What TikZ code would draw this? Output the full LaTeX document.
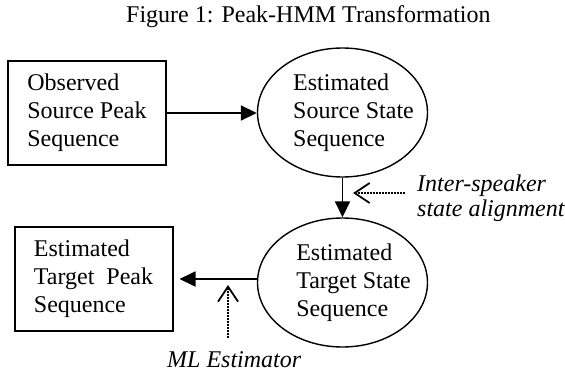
\documentclass[tikz,border=0pt]{standalone}
\usepackage{fontspec}
\setmainfont{Liberation Serif}
\usetikzlibrary{arrows.meta, shapes.geometric}

\begin{document}
\begin{tikzpicture}[x=1pt, y=-1pt,
        txt/.style={font=\fontsize{24}{28}\selectfont, align=left},
        peakbox/.style={txt, draw, line width=2pt, minimum width=158pt, minimum height=104pt},
        statebox/.style={ellipse, draw, line width=1.4pt, minimum width=170pt, minimum height=129pt},
        flow/.style={line width=1.8pt, -{Triangle[length=16pt, width=15pt]}},
        hint/.style={line width=1.8pt, dash pattern=on 1.6pt off 1.4pt, -{Straight Barb[length=15pt, width=20pt]}}]
            \useasboundingbox (0,0) rectangle (565,372);
            \node[txt, anchor=base west, inner sep=0](title) at (126,22){Figure 1: Peak-HMM Transformation};
            \node[peakbox](srcpeak) at (87,113){Observed\\Source Peak\\Sequence};
            \node[statebox](srcstate) at (342.5,112.5){};
            \node[txt](srcstatetext) at ([xshift=11pt]srcstate.center){Estimated\\Source State\\Sequence};
            \node[statebox](tgtstate) at (342.5,282.5){};
            \node[txt](tgtstatetext) at ([xshift=11pt]tgtstate.center){Estimated\\Target State\\Sequence};
            \node[peakbox](tgtpeak) at (93.5,279){Estimated\\Target \ Peak\\Sequence};
            \draw[flow](srcpeak.east)--(srcpeak.east -| srcstate.west);
            \draw[flow](srcstate.south)--(tgtstate.north);
            \draw[flow, shorten >=6pt](tgtstate.west |- tgtpeak.east)--(tgtpeak.east);
            % dotted hints
            \coordinate(alignfrom) at (405,193);
            \coordinate(aligntip) at (353,193);
            \draw[hint](alignfrom)--(aligntip);
            \node[txt, font=\fontsize{24}{25}\selectfont\itshape, anchor=west, inner sep=0](alignlabel) at (417,198){Inter-speaker\\state alignment};
            \coordinate(mlfrom) at (228,338);
            \coordinate(mltip) at (228,285);
            \draw[hint](mlfrom)--(mltip);
            \node[txt, font=\fontsize{24}{28}\selectfont\itshape, anchor=base west, inner sep=0](mllabel) at (167,367){ML Estimator};
        \end{tikzpicture}
\end{document}
